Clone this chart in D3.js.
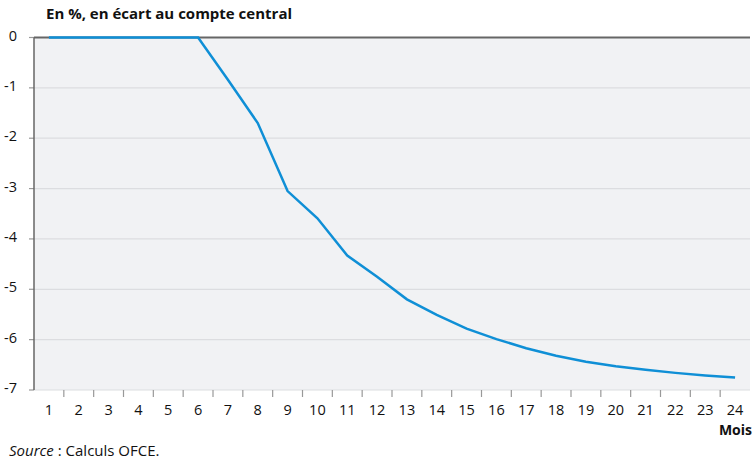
<!DOCTYPE html>
<html>
<head>
<meta charset="utf-8">
<script src="https://cdn.jsdelivr.net/npm/d3@7"></script>
<style>
  body { margin: 0; background: #fff; }
  text { font-family: "Open Sans", "Noto Sans", sans-serif; fill: #111; }
</style>
</head>
<body>
<svg id="chart" width="753" height="459"></svg>
<script>
// months 1..24 and deviation from central scenario (%)
var months = d3.range(1, 25);
var values = [0, 0, 0, 0, 0, 0, -0.84, -1.7, -3.05, -3.59, -4.33, -4.75,
              -5.2, -5.51, -5.78, -5.99, -6.17, -6.32, -6.44, -6.53, -6.6, -6.66, -6.71, -6.75];
var yTicks = [0, -1, -2, -3, -4, -5, -6, -7];

var svg = d3.select('#chart');
var LEFT = 34, RIGHT = 750, TOP = 37.5, BOTTOM = 390;

var x = d3.scaleBand().domain(months).range([LEFT, RIGHT]);
var y = d3.scaleLinear().domain([-7, 0]).range([BOTTOM, TOP]);

svg.append('rect')
  .attr('x', LEFT).attr('y', TOP)
  .attr('width', RIGHT - LEFT).attr('height', BOTTOM - TOP)
  .attr('fill', '#f1f2f4');

// grid lines
svg.selectAll('.grid').data(yTicks.filter(d => d !== 0)).enter()
  .append('line')
  .attr('x1', LEFT).attr('x2', RIGHT)
  .attr('y1', d => y(d)).attr('y2', d => y(d))
  .attr('stroke', '#dcdde0').attr('stroke-width', 1.2);

// y ticks + labels
svg.selectAll('.yt').data(yTicks).enter()
  .append('line')
  .attr('x1', LEFT - 5).attr('x2', LEFT)
  .attr('y1', d => y(d)).attr('y2', d => y(d))
  .attr('stroke', '#999').attr('stroke-width', 1.2);
svg.selectAll('.yl').data(yTicks).enter()
  .append('text')
  .attr('x', 17).attr('y', d => y(d) + 3)
  .attr('text-anchor', 'end')
  .style('font-size', '14.5px')
  .text(d => d);

// x ticks between bands
svg.selectAll('.xt').data(months.slice(1)).enter()
  .append('line')
  .attr('x1', d => x(d)).attr('x2', d => x(d))
  .attr('y1', BOTTOM).attr('y2', BOTTOM + 7)
  .attr('stroke', '#999').attr('stroke-width', 1.2);
svg.selectAll('.xl').data(months).enter()
  .append('text')
  .attr('x', d => x(d) + x.bandwidth() / 2)
  .attr('y', BOTTOM + 25)
  .attr('text-anchor', 'middle')
  .style('font-size', '14.5px')
  .text(d => d);

// axes lines
svg.append('line')
  .attr('x1', LEFT).attr('x2', RIGHT).attr('y1', TOP).attr('y2', TOP)
  .attr('stroke', '#666').attr('stroke-width', 2);
svg.append('line')
  .attr('x1', LEFT).attr('x2', LEFT).attr('y1', TOP).attr('y2', BOTTOM)
  .attr('stroke', '#666').attr('stroke-width', 1.5);

// series
var line = d3.line()
  .x((d, i) => x(months[i]) + x.bandwidth() / 2)
  .y(d => y(d));
svg.append('path').datum(values)
  .attr('fill', 'none')
  .attr('stroke', '#0f8fd6')
  .attr('stroke-width', 2.5)
  .attr('d', line);

// texts
svg.append('text')
  .attr('x', 46).attr('y', 19)
  .style('font-size', '15px').style('font-weight', 'bold')
  .text('En %, en écart au compte central');
svg.append('text')
  .attr('x', 752).attr('y', 435)
  .attr('text-anchor', 'end')
  .style('font-size', '14px').style('font-weight', 'bold')
  .text('Mois');
var src = svg.append('text')
  .attr('x', 9).attr('y', 456)
  .style('font-size', '15px');
src.append('tspan').style('font-style', 'italic').text('Source');
src.append('tspan').text(' : Calculs OFCE.');
</script>
</body>
</html>
